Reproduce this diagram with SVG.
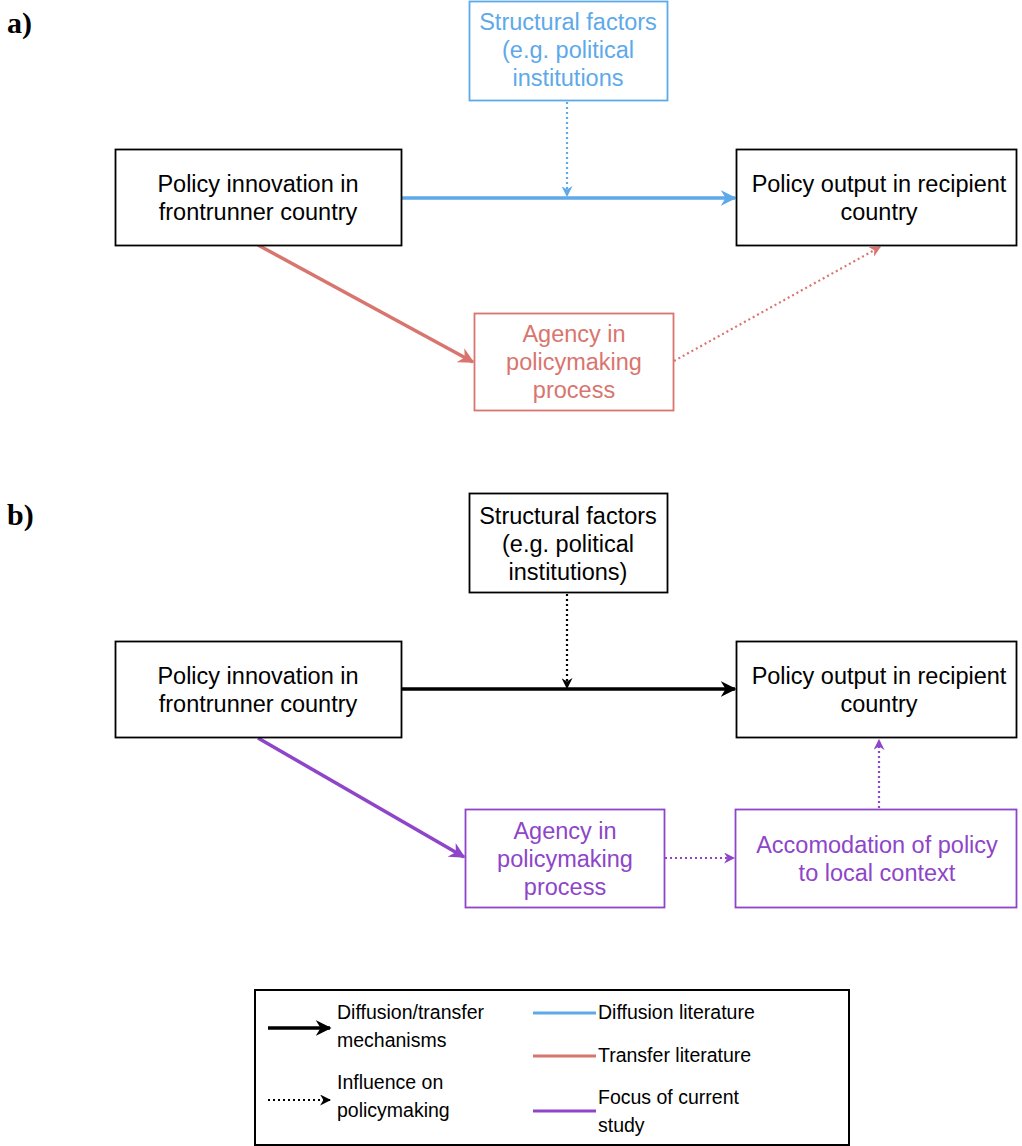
<svg xmlns="http://www.w3.org/2000/svg" width="1022" height="1146" viewBox="0 0 1022 1146">
<style>
.t{font-family:"Liberation Sans",Arial,sans-serif;font-size:23.5px;text-anchor:middle;dominant-baseline:central}
.lg{font-family:"Liberation Sans",Arial,sans-serif;font-size:19.5px;dominant-baseline:central}
.lab{font-family:"Liberation Serif","DejaVu Serif",serif;font-size:30px;font-weight:bold}
.box{fill:#fff;stroke-width:1.8}
.k{stroke:#000;fill:#000}
.b{stroke:#5DA9E9;fill:#5DA9E9}
.r{stroke:#D9756F;fill:#D9756F}
.p{stroke:#8E45C9;fill:#8E45C9}
.solid{stroke-width:3.5;fill:none}
.dot{stroke-width:2.2;stroke-dasharray:2 3;fill:none}
</style>
<defs>
<marker id="ak" viewBox="0 0 10 10" refX="9" refY="5" markerWidth="4.5" markerHeight="4.5" orient="auto" markerUnits="strokeWidth"><path d="M0,0 L10,5 L0,10 L3,5 z" fill="#000"/></marker>
<marker id="ab" viewBox="0 0 10 10" refX="9" refY="5" markerWidth="4.5" markerHeight="4.5" orient="auto" markerUnits="strokeWidth"><path d="M0,0 L10,5 L0,10 L3,5 z" fill="#5DA9E9"/></marker>
<marker id="ar" viewBox="0 0 10 10" refX="9" refY="5" markerWidth="4.5" markerHeight="4.5" orient="auto" markerUnits="strokeWidth"><path d="M0,0 L10,5 L0,10 L3,5 z" fill="#D9756F"/></marker>
<marker id="ap" viewBox="0 0 10 10" refX="9" refY="5" markerWidth="4.5" markerHeight="4.5" orient="auto" markerUnits="strokeWidth"><path d="M0,0 L10,5 L0,10 L3,5 z" fill="#8E45C9"/></marker>
<marker id="dk" viewBox="0 0 10 10" refX="9" refY="5" markerWidth="5" markerHeight="5" orient="auto" markerUnits="strokeWidth"><path d="M0,0 L10,5 L0,10 L3,5 z" fill="#000"/></marker>
<marker id="db" viewBox="0 0 10 10" refX="9" refY="5" markerWidth="5" markerHeight="5" orient="auto" markerUnits="strokeWidth"><path d="M0,0 L10,5 L0,10 L3,5 z" fill="#5DA9E9"/></marker>
<marker id="dr" viewBox="0 0 10 10" refX="9" refY="5" markerWidth="5" markerHeight="5" orient="auto" markerUnits="strokeWidth"><path d="M0,0 L10,5 L0,10 L3,5 z" fill="#D9756F"/></marker>
<marker id="dp" viewBox="0 0 10 10" refX="9" refY="5" markerWidth="5" markerHeight="5" orient="auto" markerUnits="strokeWidth"><path d="M0,0 L10,5 L0,10 L3,5 z" fill="#8E45C9"/></marker>
</defs>
<rect width="1022" height="1146" fill="#fff"/>
<text class="lab" x="7" y="33">a)</text>
<text class="lab" x="7" y="525">b)</text>

<g id="connectors">
<line class="b solid" x1="401" y1="198" x2="735" y2="198" marker-end="url(#ab)"/>
<line class="b dot" x1="567" y1="102" x2="567" y2="196" marker-end="url(#db)"/>
<line class="r solid" x1="258" y1="245" x2="473" y2="362" marker-end="url(#ar)"/>
<line class="r dot" x1="674" y1="361" x2="880" y2="247" marker-end="url(#dr)"/>
<line class="k solid" x1="401" y1="689" x2="735" y2="689" marker-end="url(#ak)"/>
<line class="k dot" x1="567" y1="594" x2="567" y2="688" marker-end="url(#dk)"/>
<line class="p solid" x1="258" y1="738" x2="464" y2="857" marker-end="url(#ap)"/>
<line class="p dot" x1="665" y1="858" x2="734" y2="858" marker-end="url(#dp)"/>
<line class="p dot" x1="879" y1="808" x2="879" y2="740" marker-end="url(#dp)"/>
</g>

<g id="a_structural">
<rect class="box" x="469.5" y="1.5" width="198" height="99" stroke="#5DA9E9"/>
<text class="t" fill="#5DA9E9"><tspan x="568" y="22">Structural factors</tspan><tspan x="568" y="50">(e.g. political</tspan><tspan x="568" y="78">institutions</tspan></text>
</g>
<g id="a_innovation">
<rect class="box" x="115.5" y="149.5" width="286" height="96" stroke="#000"/>
<text class="t"><tspan x="258" y="184">Policy innovation in</tspan><tspan x="258" y="212">frontrunner country</tspan></text>
</g>
<g id="a_output">
<rect class="box" x="736.5" y="149.5" width="280" height="96" stroke="#000"/>
<text class="t"><tspan x="879" y="184">Policy output in recipient</tspan><tspan x="879" y="212">country</tspan></text>
</g>
<g id="a_agency">
<rect class="box" x="474.5" y="313.5" width="199" height="97" stroke="#D9756F"/>
<text class="t" fill="#D9756F"><tspan x="574" y="334">Agency in</tspan><tspan x="574" y="362">policymaking</tspan><tspan x="574" y="390">process</tspan></text>
</g>

<g id="b_structural">
<rect class="box" x="469.5" y="493.5" width="198" height="99" stroke="#000"/>
<text class="t"><tspan x="568" y="516">Structural factors</tspan><tspan x="568" y="544">(e.g. political</tspan><tspan x="568" y="572">institutions)</tspan></text>
</g>
<g id="b_innovation">
<rect class="box" x="115.5" y="641.5" width="286" height="96" stroke="#000"/>
<text class="t"><tspan x="258" y="676">Policy innovation in</tspan><tspan x="258" y="704">frontrunner country</tspan></text>
</g>
<g id="b_output">
<rect class="box" x="736.5" y="641.5" width="280" height="96" stroke="#000"/>
<text class="t"><tspan x="879" y="676">Policy output in recipient</tspan><tspan x="879" y="704">country</tspan></text>
</g>
<g id="b_agency">
<rect class="box" x="465.5" y="809.5" width="199" height="98" stroke="#8E45C9"/>
<text class="t" fill="#8E45C9"><tspan x="565" y="831">Agency in</tspan><tspan x="565" y="859">policymaking</tspan><tspan x="565" y="887">process</tspan></text>
</g>
<g id="b_accomodation">
<rect class="box" x="735.5" y="809.5" width="281" height="98" stroke="#8E45C9"/>
<text class="t" fill="#8E45C9"><tspan x="877" y="845">Accomodation of policy</tspan><tspan x="877" y="873">to local context</tspan></text>
</g>

<g id="legend">
<rect x="255" y="990" width="594" height="155" fill="#fff" stroke="#000" stroke-width="2"/>
<line class="k solid" x1="268" y1="1028" x2="330" y2="1028" stroke-width="3" marker-end="url(#ak)"/>
<line class="k dot" x1="268" y1="1100" x2="330" y2="1100" stroke-width="2" marker-end="url(#dk)"/>
<text class="lg"><tspan x="337" y="1012">Diffusion/transfer</tspan><tspan x="337" y="1040">mechanisms</tspan></text>
<text class="lg"><tspan x="337" y="1082">Influence on</tspan><tspan x="337" y="1110">policymaking</tspan></text>
<line x1="533" y1="1013" x2="596" y2="1013" stroke="#5DA9E9" stroke-width="3"/>
<line x1="533" y1="1056" x2="596" y2="1056" stroke="#D9756F" stroke-width="3"/>
<line x1="533" y1="1111" x2="596" y2="1111" stroke="#8E45C9" stroke-width="3"/>
<text class="lg" x="598" y="1012">Diffusion literature</text>
<text class="lg" x="598" y="1055">Transfer literature</text>
<text class="lg"><tspan x="598" y="1097">Focus of current</tspan><tspan x="598" y="1125">study</tspan></text>
</g>
</svg>
